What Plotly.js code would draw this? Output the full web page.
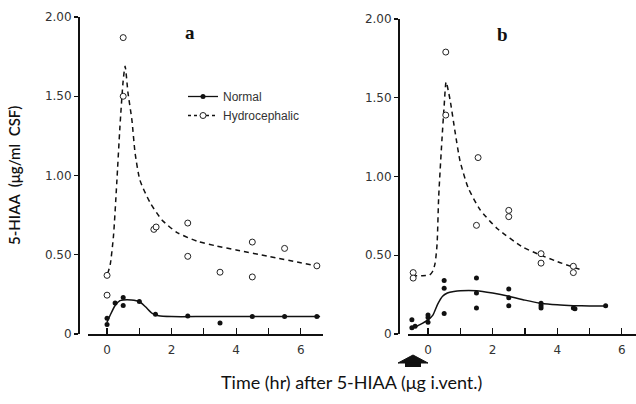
<!DOCTYPE html>
<html>
<head>
<meta charset="utf-8">
<script src="https://cdn.plot.ly/plotly-3.0.1.min.js"></script>
<style>html,body{margin:0;padding:0;background:#fff;}#chart{width:636px;height:404px;}</style>
</head>
<body>
<div id="chart"></div>
<script>
// Panel a – observed points
const aHydroX = [0, 0, 0.5, 0.5, 1.45, 1.52, 2.5, 2.5, 3.5, 4.5, 4.5, 5.5, 6.5];
const aHydroY = [0.37, 0.245, 1.87, 1.50, 0.66, 0.675, 0.70, 0.49, 0.39, 0.58, 0.36, 0.54, 0.43];
const aNormX = [0, 0, 0.25, 0.5, 0.5, 1.0, 1.5, 2.5, 3.5, 4.5, 5.5, 6.5];
const aNormY = [0.06, 0.10, 0.195, 0.23, 0.18, 0.205, 0.125, 0.113, 0.07, 0.11, 0.11, 0.11];
// Panel a – fitted curves
const aHydroFitX = [0.02, 0.1, 0.2, 0.3, 0.4, 0.5, 0.56, 0.65, 0.77, 0.87, 1.02, 1.33, 1.7, 2.17, 2.8, 3.4, 4.0, 5.0, 6.0, 6.5];
const aHydroFitY = [0.38, 0.44, 0.62, 0.95, 1.31, 1.60, 1.69, 1.52, 1.35, 1.14, 0.97, 0.83, 0.72, 0.64, 0.585, 0.555, 0.53, 0.49, 0.45, 0.43];
const aNormFitX = [0, 0.1, 0.25, 0.4, 0.5, 0.75, 1.0, 1.2, 1.4, 1.6, 2.0, 3, 4, 5, 6, 6.6];
const aNormFitY = [0.075, 0.12, 0.18, 0.21, 0.215, 0.215, 0.205, 0.17, 0.13, 0.115, 0.11, 0.11, 0.11, 0.11, 0.11, 0.11];

// Panel b – observed points
const bHydroX = [-0.46, -0.46, 0.55, 0.55, 1.55, 1.5, 2.5, 2.5, 3.5, 3.5, 4.5, 4.5];
const bHydroY = [0.39, 0.355, 1.79, 1.39, 1.12, 0.69, 0.785, 0.745, 0.51, 0.45, 0.43, 0.39];
const bNormX = [-0.5, -0.4, -0.5, 0, 0, 0, 0.5, 0.5, 0.5, 1.5, 1.5, 1.5, 2.5, 2.5, 2.5, 3.5, 3.5, 3.5, 4.5, 4.55, 5.5];
const bNormY = [0.04, 0.05, 0.09, 0.12, 0.075, 0.105, 0.34, 0.29, 0.13, 0.355, 0.26, 0.165, 0.285, 0.23, 0.18, 0.195, 0.18, 0.165, 0.165, 0.16, 0.18];
// Panel b – fitted curves
const bHydroFitX = [-0.5, -0.2, 0.05, 0.15, 0.22, 0.28, 0.33, 0.43, 0.5, 0.56, 0.68, 0.84, 0.99, 1.24, 1.61, 2.14, 2.95, 3.5, 4.0, 4.7];
const bHydroFitY = [0.37, 0.37, 0.375, 0.40, 0.45, 0.57, 0.87, 1.23, 1.45, 1.60, 1.49, 1.28, 1.10, 0.93, 0.79, 0.67, 0.55, 0.50, 0.46, 0.41];
const bNormFitX = [-0.5, -0.25, 0, 0.15, 0.3, 0.45, 0.6, 0.8, 1.0, 1.5, 2.0, 2.5, 3.0, 3.5, 4.0, 4.5, 5.0, 5.5];
const bNormFitY = [0.035, 0.06, 0.09, 0.12, 0.19, 0.24, 0.26, 0.27, 0.275, 0.275, 0.26, 0.24, 0.215, 0.195, 0.185, 0.18, 0.178, 0.178];

// Axis ticks
const yTickVals = [0, 0.5, 1, 1.5, 2];
const yTickText = ['0', '0.50', '1.00', '1.50', '2.00'];

const ink = '#111';
const dotM = {size: 5, color: ink};
const openM = {size: 6, color: '#fff', line: {color: '#222', width: 1}};
const solidL = {color: ink, width: 1.5, shape: 'spline', smoothing: 0.6};
const dashL = {color: ink, width: 1.5, dash: '5px,4px', shape: 'spline', smoothing: 0.6};

const traces = [
  {x: aHydroFitX, y: aHydroFitY, mode: 'lines', line: dashL, xaxis: 'x', yaxis: 'y', showlegend: false, hoverinfo: 'skip'},
  {x: aNormFitX, y: aNormFitY, mode: 'lines', line: solidL, xaxis: 'x', yaxis: 'y', showlegend: false, hoverinfo: 'skip'},
  {x: aHydroX, y: aHydroY, mode: 'markers', marker: openM, xaxis: 'x', yaxis: 'y', showlegend: false, cliponaxis: false},
  {x: aNormX, y: aNormY, mode: 'markers', marker: dotM, xaxis: 'x', yaxis: 'y', showlegend: false, cliponaxis: false},
  {x: bHydroFitX, y: bHydroFitY, mode: 'lines', line: dashL, xaxis: 'x2', yaxis: 'y2', showlegend: false, hoverinfo: 'skip'},
  {x: bNormFitX, y: bNormFitY, mode: 'lines', line: solidL, xaxis: 'x2', yaxis: 'y2', showlegend: false, hoverinfo: 'skip'},
  {x: bHydroX, y: bHydroY, mode: 'markers', marker: openM, xaxis: 'x2', yaxis: 'y2', showlegend: false, cliponaxis: false},
  {x: bNormX, y: bNormY, mode: 'markers', marker: dotM, xaxis: 'x2', yaxis: 'y2', showlegend: false, cliponaxis: false},
  // legend entries
  {x: [null], y: [null], mode: 'lines+markers', name: 'Normal', marker: dotM, line: {color: ink, width: 1.3}, xaxis: 'x', yaxis: 'y'},
  {x: [null], y: [null], mode: 'lines+markers', name: 'Hydrocephalic', marker: openM, line: {color: ink, width: 1.3, dash: '3px,3px'}, xaxis: 'x', yaxis: 'y'}
];

const tickFont = {family: 'DejaVu Sans', size: 12, color: '#333'};
function xAxis(dom, rng) {
  return {domain: dom, range: rng, showline: true, linecolor: ink, linewidth: 1.5,
    ticks: 'inside', ticklen: 6, tickcolor: ink, tickwidth: 1.2, tick0: 0, dtick: 2,
    ticklabelstandoff: 4,
    minor: {dtick: 1, ticks: 'inside', ticklen: 6, tickcolor: ink, tickwidth: 1.2},
    showgrid: false, zeroline: false, tickfont: tickFont, fixedrange: true};
}
function yAxis(dom, pos) {
  return {domain: dom, range: [0, 2], anchor: 'free', position: pos,
    showline: true, linecolor: ink, linewidth: 1.5,
    ticks: 'outside', ticklen: 4, tickcolor: ink, tickwidth: 1.2,
    tickvals: yTickVals, ticktext: yTickText,
    showgrid: false, zeroline: false, tickfont: tickFont, fixedrange: true};
}

const layout = {
  width: 636, height: 404,
  margin: {l: 0, r: 0, t: 0, b: 0},
  paper_bgcolor: '#fff', plot_bgcolor: 'rgba(0,0,0,0)',
  xaxis: xAxis([88/636, 323/636], [-0.59, 6.69]),
  yaxis: yAxis([70/404, 387/404], 78/636),
  xaxis2: xAxis([408/636, 1], [-0.62, 6.44]),
  yaxis2: yAxis([70/404, 385/404], 398/636),
  showlegend: true,
  legend: {x: 183/636, y: (404-82)/404, xanchor: 'left', yanchor: 'top', bgcolor: 'rgba(0,0,0,0)',
    font: {family: 'Liberation Sans', size: 12, color: '#333'}, tracegroupgap: 2, itemwidth: 30},
  annotations: [
    {text: '<b>a</b>', xref: 'paper', yref: 'paper', x: 190/636, y: (404-33)/404, xanchor: 'center', yanchor: 'middle', showarrow: false,
      font: {family: 'Liberation Serif', size: 19, color: ink}},
    {text: '<b>b</b>', xref: 'paper', yref: 'paper', x: 502/636, y: (404-35)/404, xanchor: 'center', yanchor: 'middle', showarrow: false,
      font: {family: 'Liberation Serif', size: 19, color: ink}},
    {text: '5-HIAA  (μg/ml  CSF)', xref: 'paper', yref: 'paper', x: 14/636, y: (404-176)/404, xanchor: 'center', yanchor: 'middle', textangle: -90,
      showarrow: false, font: {family: 'Lato', size: 15, color: ink, weight: 600}},
    {text: 'Time (hr) after 5-HIAA (μg i.vent.)', xref: 'paper', yref: 'paper', x: 351/636, y: (404-382)/404, xanchor: 'center', yanchor: 'middle',
      showarrow: false, font: {family: 'Lato', size: 18, color: ink}}
  ],
  shapes: [
    {type: 'path', xref: 'paper', yref: 'paper', fillcolor: ink, line: {color: ink, width: 1},
      path: 'M ' + (413/636) + ' ' + (49/404) + ' L ' + (398/636) + ' ' + (41/404) + ' L ' + (428/636) + ' ' + (41/404) + ' Z'},
    {type: 'rect', xref: 'paper', yref: 'paper', fillcolor: ink, line: {color: ink, width: 0},
      x0: 405/636, x1: 421/636, y0: 37/404, y1: 41.5/404}
  ]
};

Plotly.newPlot('chart', traces, layout, {staticPlot: true, displayModeBar: false});
</script>
</body>
</html>
